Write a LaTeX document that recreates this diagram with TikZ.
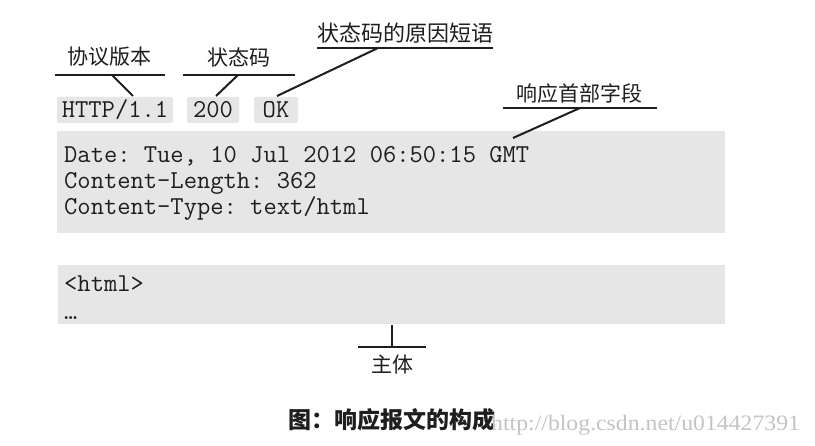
\documentclass[tikz,border=0pt]{standalone}
\usepackage{fontspec}
\newfontfamily\cjk{Noto Sans CJK SC}
\newfontfamily\wmfont{Liberation Serif}
\definecolor{tagfill}{HTML}{E6E6E6}
\definecolor{ink}{HTML}{1E1E1E}
\definecolor{wm}{HTML}{C4C4C4}
\frenchspacing
\newcommand{\codefont}{\ttfamily\addfontfeatures{FakeBold=1}\fontsize{25.8}{26}\selectfont\frenchspacing}
\begin{document}
\begin{tikzpicture}[x=1pt,y=-1pt,
  tag/.style={fill=tagfill, rounded corners=1.5pt, inner sep=0pt, minimum height=26pt,
    text height=16pt, text depth=0pt, font=\codefont, text=ink},
  code/.style={anchor=base west, inner sep=0pt, font=\codefont, text=ink},
  lbl/.style={inner sep=0pt, font=\cjk\fontsize{21}{24}\selectfont, text=ink},
  lead/.style={draw=ink, line width=2pt},
  panel/.style={fill=tagfill, inner sep=0pt}]
\useasboundingbox (0,0) rectangle (815,446);
\fill[white] (0,0) rectangle (815,446);
% panels
\node[panel, minimum width=668pt, minimum height=102pt] (hdr) at (391,182) {};
\node[panel, minimum width=667pt, minimum height=59pt] (body) at (391.5,294.5) {};
% start-line tags
\node[tag, minimum width=116pt] (http) at (115,110) {HTTP/1.1};
\node[tag, minimum width=52pt] (code200) at (213,110) {200};
\node[tag, minimum width=44pt] (ok) at (276,110) {OK};
% header lines
\node[code] (l1) at (64,163) {Date: Tue, 10 Jul 2012 06:50:15 GMT};
\node[code] (l2) at (64,189) {Content-Length: 362};
\node[code] (l3) at (64,215) {Content-Type: text/html};
% body lines
\node[code] (b1) at (64,292) {<html>};
\node[code] (b2) at (64,320) {…};
% labels
\node[lbl] (lver) at (109,57) {协议版本};
\node[lbl] (lstat) at (239,57) {状态码};
\node[lbl, font=\cjk\fontsize{22}{24}\selectfont] (lreason) at (405,33) {状态码的原因短语};
\node[lbl] (lhdr) at (579,94) {响应首部字段};
\node[lbl] (lbody) at (392,365) {主体};
% underline coordinates
\coordinate (u1l) at (55,75);  \coordinate (u1r) at (165,75); \coordinate (u1m) at (112,75);
\coordinate (u2l) at (183,75); \coordinate (u2r) at (295,75); \coordinate (u2m) at (238,75);
\coordinate (u3l) at (317,48); \coordinate (u3r) at (493,48); \coordinate (u3m) at (378,48);
\coordinate (u4l) at (503,108); \coordinate (u4r) at (657,108); \coordinate (u4m) at (580,108);
\coordinate (u5l) at (358,347); \coordinate (u5r) at (426,347); \coordinate (u5m) at (392,347);
% leader ends
\coordinate (e1) at (133,96);
\coordinate (e2) at (216,96);
\coordinate (e3) at (277,96);
\coordinate (e4) at (513,138);
\coordinate (e5) at (392,325);
% leaders
\draw[lead] (u1l) -- (u1r); \draw[lead] (u1m) -- (e1);
\draw[lead] (u2l) -- (u2r); \draw[lead] (u2m) -- (e2);
\draw[lead] (u3l) -- (u3r); \draw[lead] (u3m) -- (e3);
\draw[lead] (u4l) -- (u4r); \draw[lead] (u4m) -- (e4);
\draw[lead] (u5l) -- (u5r); \draw[lead] (u5m) -- (e5);
% caption
\node[inner sep=0pt, font=\cjk\bfseries\fontsize{23}{26}\selectfont, text=ink] (cap) at (392,420) {图：响应报文的构成};
\node[anchor=base west, inner sep=0pt, xscale=1.08, font=\wmfont\fontsize{22}{24}\selectfont, text=wm] (wmark) at (491,431) {http://blog.csdn.net/u014427391};
\end{tikzpicture}
\end{document}
